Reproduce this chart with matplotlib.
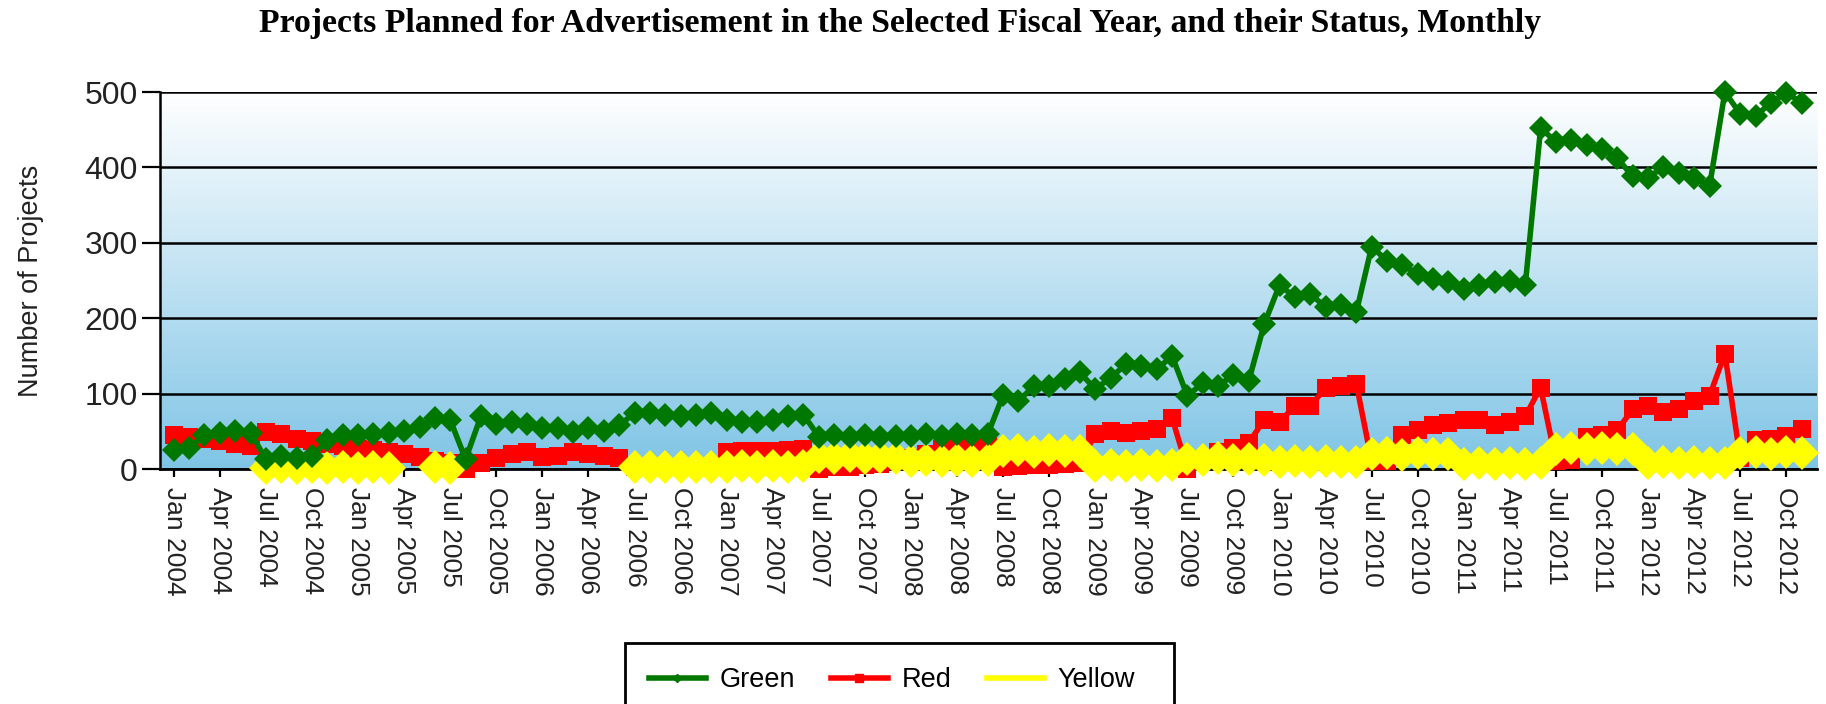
import matplotlib
matplotlib.use("Agg")
import matplotlib.pyplot as plt
import numpy as np
from matplotlib.lines import Line2D
from matplotlib.patches import Rectangle

plt.rcParams['font.family'] = ['Liberation Sans', 'DejaVu Sans']

# monthly series, Jan 2004 .. Nov 2012
green = [25, 28, 45, 48, 50, 48,
         13, 17, 14, 17, 38, 45,
         45, 47, 48, 51, 56, 67,
         65, 13, 70, 60, 63, 60,
         54, 54, 49, 54, 51, 58,
         74, 74, 72, 70, 72, 74,
         65, 63, 63, 65, 70, 72,
         43, 45, 42, 45, 42, 44,
         44, 46, 44, 47, 45, 46,
         98, 90, 110, 110, 119, 128,
         106, 121, 139, 137, 132, 150,
         97, 114, 110, 125, 117, 192,
         244, 228, 232, 215, 217, 208,
         295, 276, 270, 259, 252, 248,
         239, 244, 248, 250, 244, 452,
         434, 436, 430, 425, 412, 388,
         386, 401, 393, 386, 375, 500,
         471, 468, 486, 499, 486]

red = [45, 42, 40, 37, 33, 31,
       49, 47, 40, 37, 33, 30,
       26, 25, 22, 20, 16, 11,
       8, 0, 8, 15, 20, 22,
       16, 17, 22, 20, 17, 14,
       2, 2, 3, 2, 3, 3,
       22, 24, 24, 24, 25, 26,
       0, 2, 3, 5, 7, 10,
       15, 20, 27, 28, 28, 30,
       2, 4, 5, 5, 6, 8,
       46, 50, 48, 50, 53, 68,
       0, 13, 22, 28, 35, 65,
       63, 83, 83, 108, 110, 113,
       10, 11, 45, 52, 59, 61,
       65, 65, 59, 63, 70, 108,
       10, 12, 42, 45, 52, 79,
       83, 75, 79, 90, 97, 153,
       14, 38, 40, 44, 53]

N = None
yellow = [N, N, N, N, N, N,
          1, 2, 1, 2, 1, 2,
          1, 2, 1, N, N, 2,
          1, N, N, N, N, N,
          N, N, N, N, N, N,
          2, 3, 2, 3, 2, 3,
          3, 4, 3, 4, 3, 4,
          16, 15, 17, 15, 16, 15,
          11, 12, 11, 12, 11, 12,
          24, 25, 23, 25, 24, 24,
          4, 5, 4, 5, 4, 5,
          13, 12, 14, 12, 13, 12,
          9, 10, 9, 10, 9, 9,
          20, 21, 19, 21, 20, 20,
          7, 8, 7, 8, 7, 8,
          27, 28, 26, 28, 27, 27,
          8, 9, 8, 9, 8, 8,
          21, 22, 20, 22, 21]

months = ['Jan', 'Apr', 'Jul', 'Oct']
tick_labels = [f"{m} {y}" for y in range(2004, 2013) for m in months]

x = np.arange(len(green))
yel = np.array([np.nan if v is None else v for v in yellow], dtype=float)

fig = plt.figure(figsize=(18.26, 7.04), dpi=100)
ax = fig.add_axes([0.0876, 0.3338, 0.9075, 0.5355])

# background gradient
grad = np.linspace(0, 1, 256).reshape(-1, 1)
top = np.array([1.0, 1.0, 1.0])
bot = np.array([0.50, 0.77, 0.90])
img = top[None, None, :] * (1 - grad[:, :, None]) + bot[None, None, :] * grad[:, :, None]
ax.imshow(img, extent=[-0.9, 107.0, 0, 500], aspect='auto', zorder=0)

ax.plot(x, red, color='#ff0000', lw=4, marker='s', ms=13, mew=0,
        clip_on=False, zorder=3)
ax.plot(x, yel, color='#ffff00', lw=4, marker='D', ms=17, mew=0,
        clip_on=False, zorder=4)
ax.plot(x, green, color='#007800', lw=4, marker='D', ms=12.5, mew=0,
        clip_on=False, zorder=5)

ax.set_xlim(-0.9, 107.0)
ax.set_ylim(0, 500)
ax.set_yticks([0, 100, 200, 300, 400, 500])
ax.set_xticks(np.arange(0, 106, 3))
ax.set_xticklabels(tick_labels, rotation=270, fontsize=19, color='#222222')
ax.tick_params(axis='x', length=6, width=1.6, pad=7, direction='out')
ax.tick_params(axis='y', length=13, width=1.6, pad=3, labelsize=23,
               labelcolor='#222222')
ax.grid(axis='y', color='black', lw=1.8, zorder=1)
ax.set_axisbelow(True)
for s in ['top', 'right']:
    ax.spines[s].set_visible(False)
ax.spines['left'].set_linewidth(1.8)
ax.spines['bottom'].set_linewidth(2.0)
ax.spines['bottom'].set_zorder(2)

ax.set_ylabel('Number of Projects', fontsize=19.5, color='#222222')
ax.yaxis.set_label_coords(-0.070, 0.5)

fig.text(0.493, 0.967, 'Projects Planned for Advertisement in the Selected Fiscal Year, and their Status, Monthly',
         ha='center', va='center', fontsize=24.3, fontweight='bold',
         family='Liberation Serif')

handles = [Line2D([0], [0], color='#007800', lw=4, marker='D', ms=4),
           Line2D([0], [0], color='#ff0000', lw=4, marker='s', ms=6),
           Line2D([0], [0], color='#ffff00', lw=4)]
fig.legend(handles, ['Green', 'Red', 'Yellow'], loc='center',
           bbox_to_anchor=(0.4885, 0.034), ncol=3, frameon=False,
           fontsize=19.5, handlelength=2.1, handletextpad=0.5,
           columnspacing=1.33)
fig.patches.append(Rectangle((0.3423, -0.05), 0.3007, 0.1366,
                             transform=fig.transFigure, fill=False,
                             edgecolor='black', lw=2))

fig.savefig('out.png', dpi=100)
